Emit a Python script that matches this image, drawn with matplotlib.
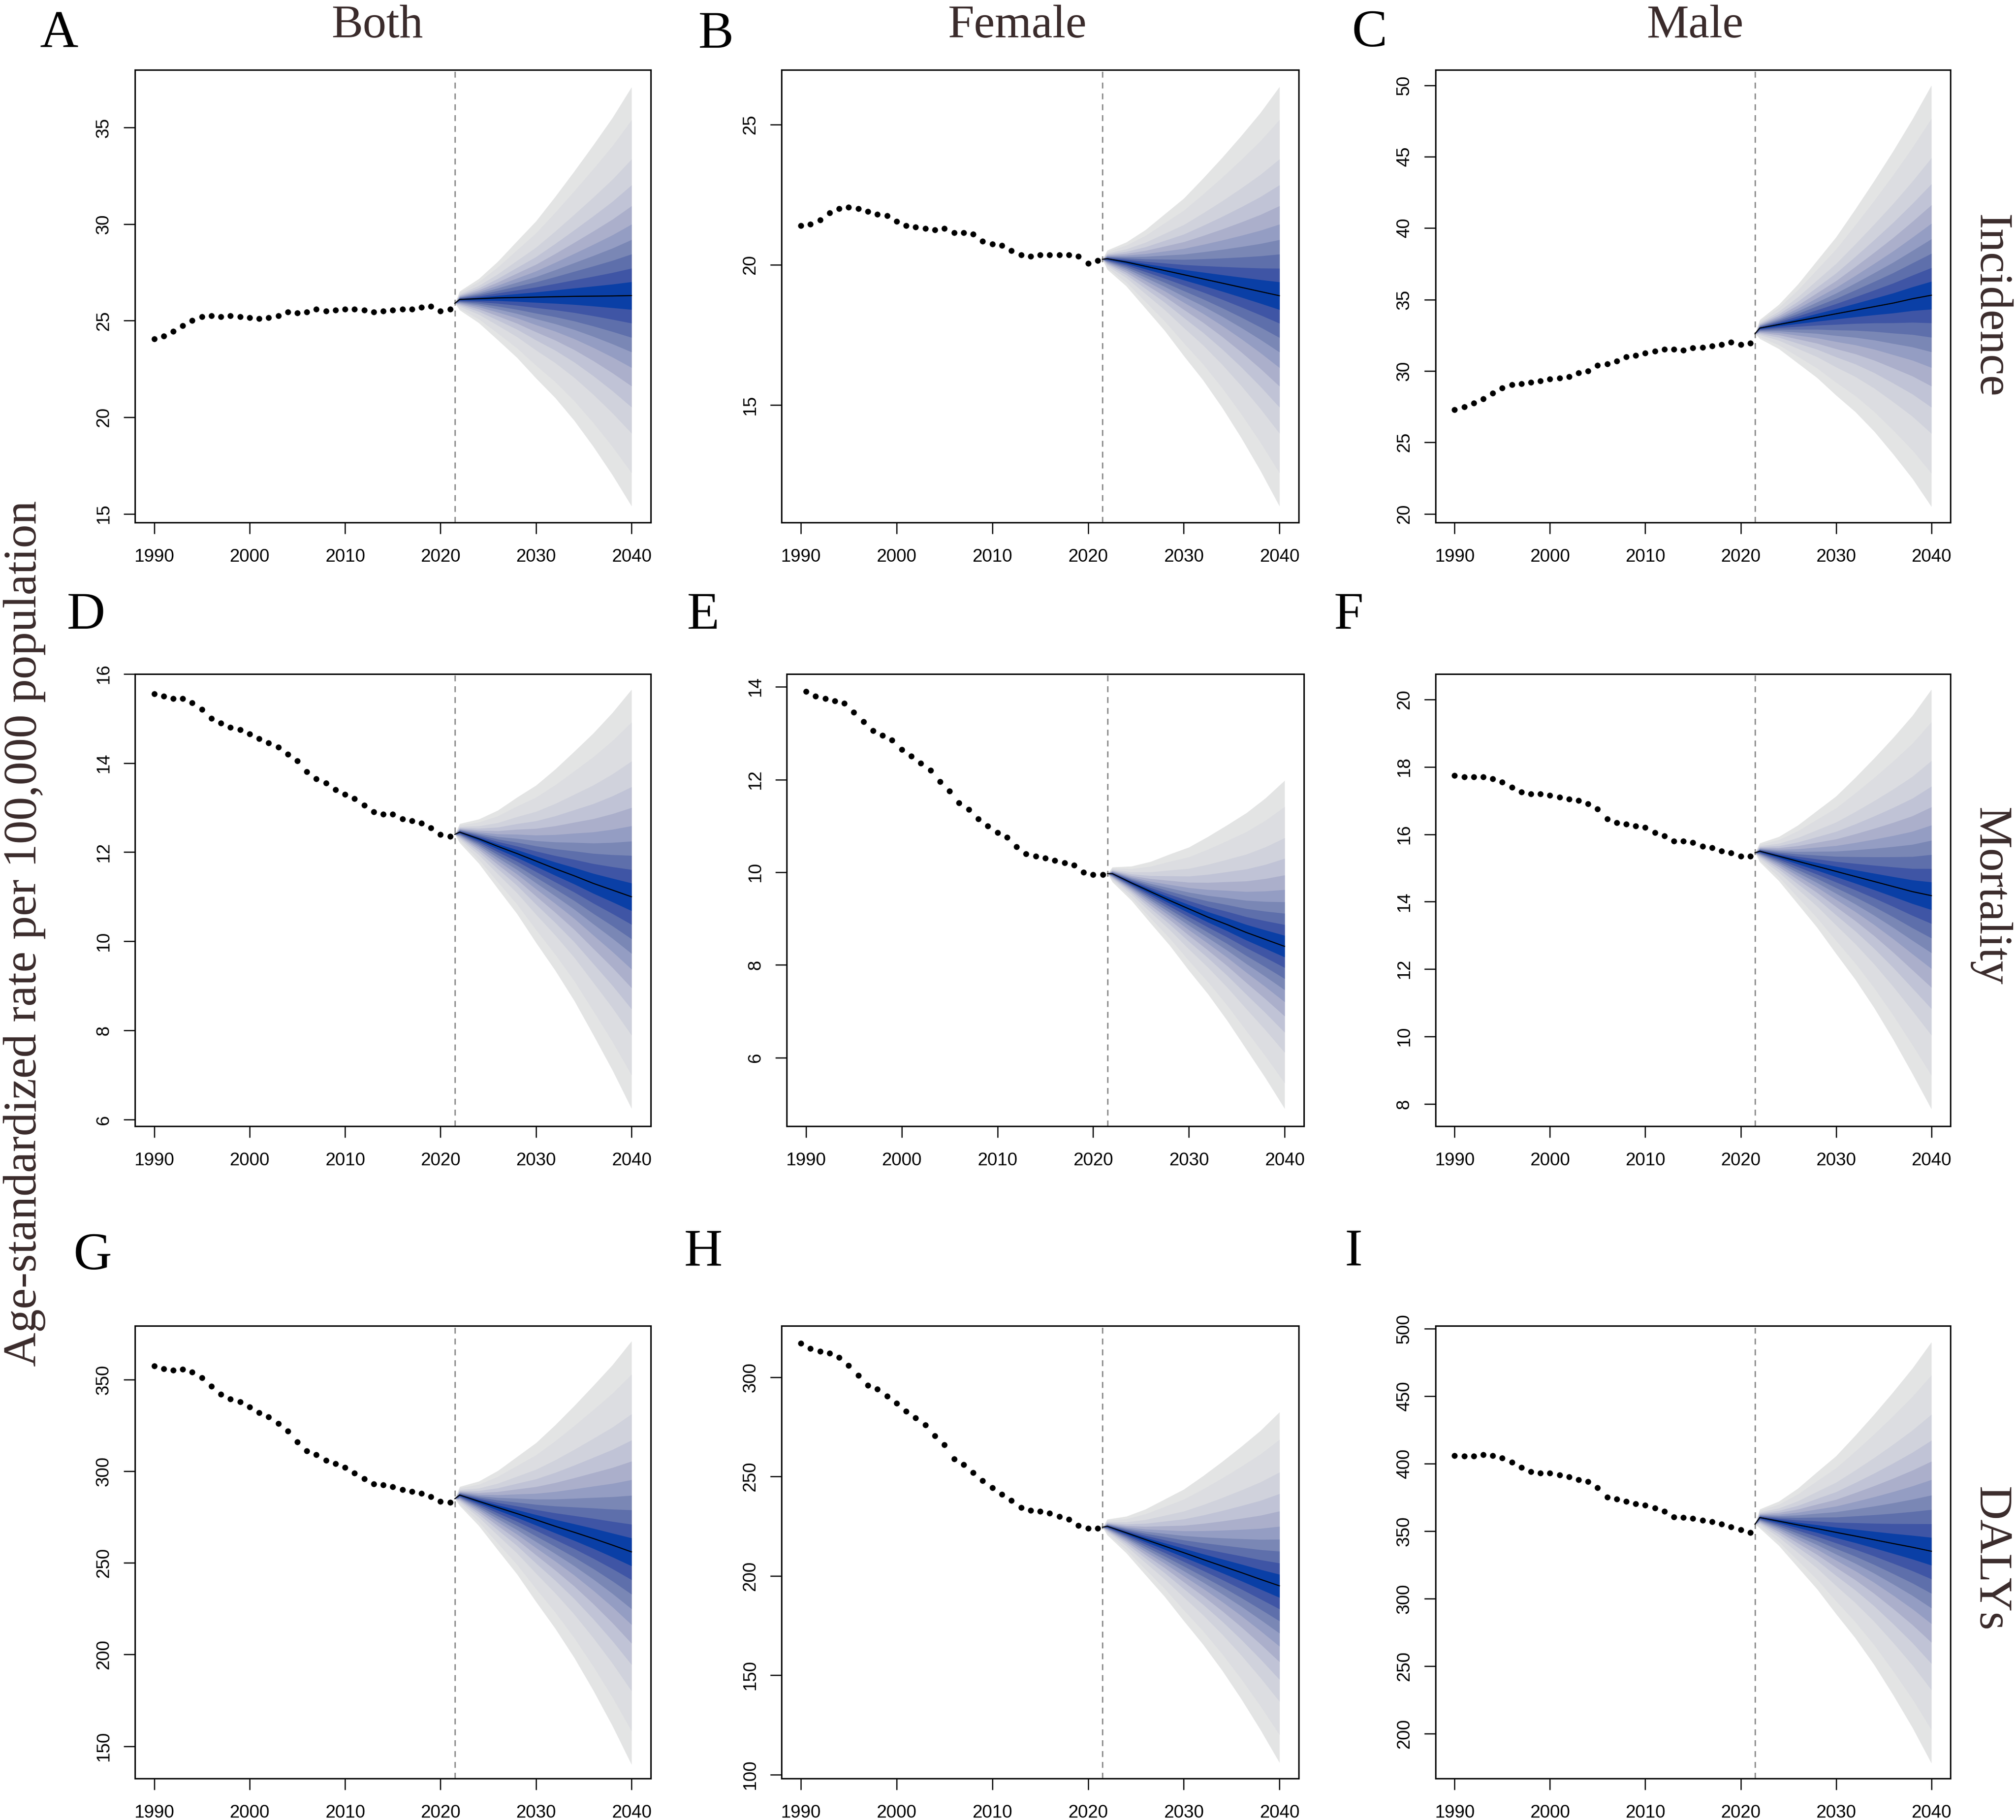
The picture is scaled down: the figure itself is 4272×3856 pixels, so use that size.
import matplotlib
matplotlib.use("Agg")
import matplotlib.pyplot as plt

W_PX, H_PX = 4272, 3856
DPI = 300
SCALE = 4272 / 1568  # layout numbers below are measured on a 1568-wide view
TXT = "#3a2b2b"
SERIF = ["Liberation Serif", "DejaVu Serif"]
SANS = ["Liberation Sans", "DejaVu Sans"]

years_obs = list(range(1990, 2022))
years_fan = [2021.5, 2022, 2024, 2026, 2028, 2030, 2032, 2034, 2036, 2038, 2040]

# share of the outer fan half-width at which each band edge lies (read at 2040)
band_levels = [1.0, 0.842, 0.654, 0.53, 0.43, 0.342, 0.268, 0.199, 0.131, 0.066]
band_colors = ["#e3e4e4", "#dcdde1", "#d0d2dc", "#c0c3d6", "#abafcb",
               "#949dc3", "#7a87b5", "#5e6fab", "#3f55a5", "#0a3fa6"]

# ---- observed rates
obs_a = [24.05,24.2,24.45,24.75,25.0,25.2,25.25,25.2,25.25,25.2,25.15,25.1,25.15,25.25,25.45,25.4,25.45,25.6,25.5,25.55,25.6,25.6,25.55,25.45,25.5,25.55,25.6,25.6,25.7,25.75,25.5,25.6]
obs_b = [21.4,21.45,21.6,21.85,22.0,22.05,22.0,21.9,21.8,21.75,21.55,21.4,21.35,21.3,21.25,21.3,21.15,21.15,21.1,20.85,20.75,20.7,20.5,20.35,20.3,20.35,20.35,20.35,20.35,20.3,20.05,20.15]
obs_c = [27.3,27.5,27.75,28.05,28.45,28.8,29.05,29.1,29.2,29.3,29.45,29.5,29.6,29.85,30.0,30.4,30.5,30.7,31.0,31.1,31.25,31.4,31.5,31.5,31.45,31.6,31.65,31.75,31.85,32.0,31.85,31.95]
obs_d = [15.55,15.5,15.45,15.45,15.35,15.2,15.0,14.9,14.8,14.75,14.65,14.55,14.45,14.35,14.2,14.05,13.8,13.65,13.55,13.4,13.3,13.2,13.05,12.9,12.85,12.85,12.75,12.7,12.65,12.55,12.4,12.35]
obs_e = [13.9,13.8,13.75,13.7,13.65,13.45,13.25,13.05,12.95,12.85,12.65,12.5,12.35,12.2,11.95,11.75,11.5,11.35,11.15,11.0,10.85,10.75,10.55,10.4,10.35,10.3,10.25,10.2,10.15,10.0,9.95,9.95]
obs_f = [17.75,17.7,17.7,17.7,17.65,17.55,17.4,17.25,17.2,17.2,17.15,17.1,17.05,17.0,16.9,16.75,16.45,16.35,16.3,16.25,16.2,16.05,15.95,15.8,15.8,15.75,15.65,15.6,15.5,15.45,15.35,15.35]
obs_g = [357.4,355.8,355.2,355.5,354,350.9,346.3,342,339.3,337.9,335,332,329.5,326,322,316,311,309,306,304,302,299,296,293,292.5,291.5,290,289,288,286,283.5,283]
obs_h = [317,314.5,313,312,310,306,301,296,294,290.5,287,283,279.5,276,270.5,266,259,256,252,248,244.5,241,238,234.5,233,232.5,231.5,230,228.5,225.5,224,224]
obs_i = [406,405.5,405.5,406.5,406,404,401,397,394,393,393,391.5,390,388,386.5,382,375,373.5,372,370,369,367,364.5,360.5,360,359.5,358,357,355,353,351,349]

# ---- projected mean and outer fan limits
mean_a = [25.9,26.1,26.14,26.18,26.2,26.22,26.24,26.26,26.27,26.28,26.3]
up_a = [25.9,26.53,27.17,28.07,29.12,30.16,31.42,32.74,34.1,35.51,37.1]
lo_a = [25.9,25.55,24.89,24.0,23.09,22.02,21.01,19.83,18.48,17.01,15.4]
mean_b = [20.2,20.22,20.1,19.95,19.8,19.65,19.5,19.35,19.2,19.05,18.9]
up_b = [20.2,20.52,20.81,21.25,21.81,22.37,23.08,23.82,24.6,25.42,26.35]
lo_b = [20.2,19.84,19.24,18.45,17.66,16.76,15.9,14.92,13.84,12.67,11.4]
mean_c = [32.6,33,33.25,33.5,33.75,34.0,34.25,34.5,34.75,35.05,35.3]
up_c = [32.6,33.59,34.65,36.07,37.72,39.37,41.31,43.32,45.41,47.62,50.0]
lo_c = [32.6,32.26,31.55,30.54,29.53,28.3,27.15,25.77,24.17,22.47,20.5]
mean_d = [12.4,12.45,12.3,12.13,11.97,11.8,11.63,11.47,11.3,11.15,11.0]
up_d = [12.4,12.64,12.74,12.94,13.23,13.5,13.86,14.26,14.67,15.13,15.65]
lo_d = [12.4,12.21,11.75,11.18,10.62,9.97,9.35,8.67,7.9,7.11,6.25]
mean_e = [9.97,9.97,9.77,9.58,9.39,9.21,9.03,8.87,8.7,8.55,8.4]
up_e = [9.97,10.11,10.13,10.23,10.39,10.54,10.77,11.02,11.28,11.6,11.98]
lo_e = [9.97,9.79,9.39,8.9,8.42,7.88,7.37,6.8,6.18,5.56,4.9]
mean_f = [15.45,15.5,15.35,15.2,15.05,14.9,14.75,14.6,14.45,14.3,14.18]
up_f = [15.45,15.74,15.93,16.27,16.7,17.13,17.68,18.26,18.87,19.52,20.3]
lo_f = [15.45,15.18,14.62,13.93,13.24,12.46,11.7,10.85,9.91,8.9,7.85]
mean_g = [285,287,283.6,280.2,276.9,273.5,270,266.7,263.3,259.7,256]
up_g = [285,291.6,294.5,300.3,307.9,315.5,325.2,335.7,346.7,358,371]
lo_g = [285,281.2,270.3,257,243.9,228.8,214.3,198.3,180.4,161.1,140]
mean_h = [224.5,225,221.7,218.3,215,211.7,208.3,205,201.7,198.3,195]
up_h = [224.5,228.5,230,233.6,238.6,243.6,250.3,257.5,265.1,273.1,282.5]
lo_h = [224.5,220.6,211.5,200.5,189.6,177.4,165.6,152.5,138.1,122.6,106]
mean_i = [355,360,357.3,354.5,351.8,349,346.3,343.5,340.7,338,335]
up_i = [355,366.2,372,381.6,393.7,405.6,420.7,436.5,453.1,470.5,490]
lo_i = [355,352.1,339.2,323.1,307.1,288.6,270.9,250.9,228.4,204.5,178]

# ---- y ticks and limits
yticks_a = [15,20,25,30,35];            ylim_a = (14.55, 37.99)
yticks_b = [15,20,25];                  ylim_b = (10.82, 26.95)
yticks_c = [20,25,30,35,40,45,50];      ylim_c = (19.39, 51.08)
yticks_d = [6,8,10,12,14,16];           ylim_d = (5.853, 16.0)
yticks_e = [6,8,10,12,14];              ylim_e = (4.52, 14.28)
yticks_f = [8,10,12,14,16,18,20];       ylim_f = (7.34, 20.76)
yticks_g = [150,200,250,300,350];       ylim_g = (132.5, 379.3)
yticks_h = [100,150,200,250,300];       ylim_h = (98.1, 325.9)
yticks_i = [200,250,300,350,400,450,500]; ylim_i = (166.8, 502)

xticks = [1990, 2000, 2010, 2020, 2030, 2040]
xlim = (1988, 2042)

panels = [
    # left, right, top, bottom (layout), observed, mean, upper, lower, yticks, ylim
    (105, 506, 54.3, 406.3, obs_a, mean_a, up_a, lo_a, yticks_a, ylim_a),
    (608, 1010, 54.3, 406.3, obs_b, mean_b, up_b, lo_b, yticks_b, ylim_b),
    (1116.5, 1517, 54.3, 406.3, obs_c, mean_c, up_c, lo_c, yticks_c, ylim_c),
    (105, 506, 524, 875.8, obs_d, mean_d, up_d, lo_d, yticks_d, ylim_d),
    (612, 1014, 524, 875.8, obs_e, mean_e, up_e, lo_e, yticks_e, ylim_e),
    (1116.5, 1517, 524, 875.8, obs_f, mean_f, up_f, lo_f, yticks_f, ylim_f),
    (105, 506, 1031, 1382.9, obs_g, mean_g, up_g, lo_g, yticks_g, ylim_g),
    (608, 1010, 1031, 1382.9, obs_h, mean_h, up_h, lo_h, yticks_h, ylim_h),
    (1116.5, 1517, 1031, 1382.9, obs_i, mean_i, up_i, lo_i, yticks_i, ylim_i),
]

fig = plt.figure(figsize=(W_PX / DPI, H_PX / DPI), dpi=DPI, facecolor="white")


def fx(x):
    return x * SCALE / W_PX


def fy(y):
    return 1 - y * SCALE / H_PX


for left, right, top, bottom, obs, mean, up, lo, yt, yl in panels:
    ax = fig.add_axes([fx(left), fy(bottom), fx(right) - fx(left), fy(top) - fy(bottom)])
    for lev, col in zip(band_levels, band_colors):
        upper = [m + lev * (u - m) for m, u in zip(mean, up)]
        lower = [m - lev * (m - l) for m, l in zip(mean, lo)]
        ax.fill_between(years_fan, lower, upper, color=col, lw=0, zorder=1)
    ax.plot(years_fan, mean, color="black", lw=0.55, zorder=3)
    ax.axvline(2021.5, color="#909090", lw=0.75, ls=(0, (4, 3.36)), zorder=2)
    ax.plot(years_obs, obs, ls="none", marker="o", ms=3.0, mfc="black", mec="black", mew=0, zorder=4)
    ax.set_xlim(*xlim)
    ax.set_ylim(*yl)
    ax.set_xticks(xticks)
    ax.set_yticks(yt)
    ax.tick_params(axis="both", length=5.76, width=0.6, labelsize=9.2, color="black")
    ax.tick_params(axis="x", pad=7.4)
    ax.tick_params(axis="y", pad=5.8)
    for lab in ax.get_xticklabels():
        lab.set_family(SANS)
    for lab in ax.get_yticklabels():
        lab.set_family(SANS)
        lab.set_rotation(90)
        lab.set_va("center")
    for sp in ax.spines.values():
        sp.set_linewidth(0.75)


def label(x, y, s, size, color="black", rot=0, ha="center", va="baseline"):
    fig.text(fx(x), fy(y), s, fontsize=size, color=color, family=SERIF,
             rotation=rot, ha=ha, va=va, rotation_mode="anchor" if va == "baseline" else "default")


# panel letters
letters = ["A", "B", "C", "D", "E", "F", "G", "H", "I"]
letter_x = [46, 557, 1065, 67, 547, 1049, 72, 547, 1053]
letter_y = [37, 37, 36, 489, 489, 489, 987, 984, 984]
for s, x, y in zip(letters, letter_x, letter_y):
    label(x, y, s, 27)

# column and row headings
for s, x in zip(["Both", "Female", "Male"], [293.5, 791, 1318.5]):
    label(x, 29, s, 24, color=TXT)
for s, y in zip(["Incidence", "Mortality", "DALYs"], [238, 697, 1212]):
    label(1539, y, s, 24, color=TXT, rot=270)

label(28, 726, "Age-standardized rate per 100,000 population", 24, color=TXT, rot=90)

fig.savefig("out.png", dpi=DPI, facecolor="white")
